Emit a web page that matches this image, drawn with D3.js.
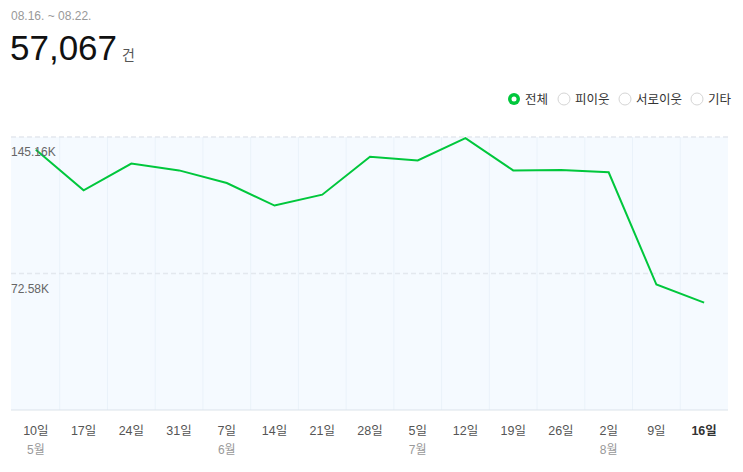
<html>
<head>
<meta charset="utf-8">
<style>
  body, html { margin: 0; padding: 0; background: #fff; font-family: Arial, "Liberation Sans", "Noto Sans CJK KR", sans-serif; }
  #container { width: 743px; height: 472px; }
</style>
<script src="https://cdn.jsdelivr.net/npm/d3@7"></script>
</head>
<body>
<div id="container"></div>
<script>
// weekly counts (thousands)
const days = ["10일","17일","24일","31일","7일","14일","21일","28일","5일","12일","19일","26일","2일","9일","16일"];
const months = ["5월","","","","6월","","","","7월","","","","8월","",""];
const values = [138.4, 116.8, 131.0, 127.4, 120.7, 108.7, 114.5, 134.7, 132.7, 144.6, 127.4, 127.6, 126.4, 66.7, 57.067];
const yTicks = [72.58, 145.16];
const legendItems = ["전체", "피이웃", "서로이웃", "기타"];

const width = 743, height = 472;
const plotLeft = 11, plotRight = 728, plotTop = 137, plotBottom = 410;

const svg = d3.select("#container").append("svg")
  .attr("width", width).attr("height", height);

// header
svg.append("text").attr("x", 11).attr("y", 20)
  .attr("font-size", 12).attr("fill", "#999").text("08.16. ~ 08.22.");
svg.append("text").attr("x", 10).attr("y", 60)
  .attr("font-size", 35).attr("fill", "#111").text("57,067");
svg.append("text").attr("x", 122).attr("y", 60)
  .attr("font-size", 14).attr("fill", "#555").text("건");

// legend
const legendX = [514, 564, 625, 697];
const lg = svg.append("g");
legendItems.forEach((t, i) => {
  const g = lg.append("g").attr("transform", `translate(${legendX[i]},99)`);
  if (i === 0) {
    g.append("circle").attr("r", 6).attr("fill", "#00c73c");
    g.append("circle").attr("r", 2.5).attr("fill", "#fff");
  } else {
    g.append("circle").attr("r", 6).attr("fill", "#fff").attr("stroke", "#d5d5d5").attr("stroke-width", 1);
  }
  g.append("text").attr("x", 11).attr("y", 5)
    .attr("font-size", 12.5).attr("fill", "#333").text(t);
});

const x = d3.scaleBand().domain(d3.range(days.length)).range([plotLeft + 1, plotRight]);
const y = d3.scaleLinear().domain([0, 145.16]).range([plotBottom, plotTop]);

// plot background
svg.append("rect").attr("x", plotLeft).attr("y", plotTop)
  .attr("width", plotRight - plotLeft).attr("height", plotBottom - plotTop)
  .attr("fill", "#f5faff");

// vertical band lines
svg.append("g").selectAll("line")
  .data(d3.range(1, days.length))
  .join("line")
  .attr("x1", d => x(d)).attr("x2", d => x(d))
  .attr("y1", plotTop).attr("y2", plotBottom)
  .attr("stroke", "#eaf2fa").attr("stroke-width", 1);

// horizontal dashed grid
svg.append("g").selectAll("line")
  .data(yTicks)
  .join("line")
  .attr("x1", plotLeft).attr("x2", plotRight)
  .attr("y1", d => y(d)).attr("y2", d => y(d))
  .attr("stroke", "#e3e8ee").attr("stroke-width", 1.5)
  .attr("stroke-dasharray", "5,3");

// bottom axis line
svg.append("line").attr("x1", plotLeft).attr("x2", plotRight)
  .attr("y1", plotBottom).attr("y2", plotBottom)
  .attr("stroke", "#dbe3ea").attr("stroke-width", 1);

// line
const line = d3.line()
  .x((d, i) => x(i) + x.bandwidth() / 2)
  .y(d => y(d));
svg.append("path").datum(values)
  .attr("d", line)
  .attr("fill", "none")
  .attr("stroke", "#00c73c")
  .attr("stroke-width", 2)
  .attr("stroke-linejoin", "miter");

// y labels
svg.append("g").selectAll("text")
  .data(yTicks)
  .join("text")
  .attr("x", plotLeft).attr("y", d => y(d) + 19)
  .attr("font-size", 12).attr("fill", "#666")
  .text(d => d.toFixed(2) + "K");

// x labels
svg.append("g").selectAll("text")
  .data(days)
  .join("text")
  .attr("x", (d, i) => x(i) + x.bandwidth() / 2)
  .attr("y", 435)
  .attr("text-anchor", "middle")
  .attr("font-size", 12.5)
  .attr("font-weight", (d, i) => i === days.length - 1 ? "bold" : "normal")
  .attr("fill", (d, i) => i === days.length - 1 ? "#333" : "#555")
  .text(d => d);

svg.append("g").selectAll("text")
  .data(months)
  .join("text")
  .attr("x", (d, i) => x(i) + x.bandwidth() / 2)
  .attr("y", 454)
  .attr("text-anchor", "middle")
  .attr("font-size", 12)
  .attr("fill", "#999")
  .text(d => d);
</script>
</body>
</html>
